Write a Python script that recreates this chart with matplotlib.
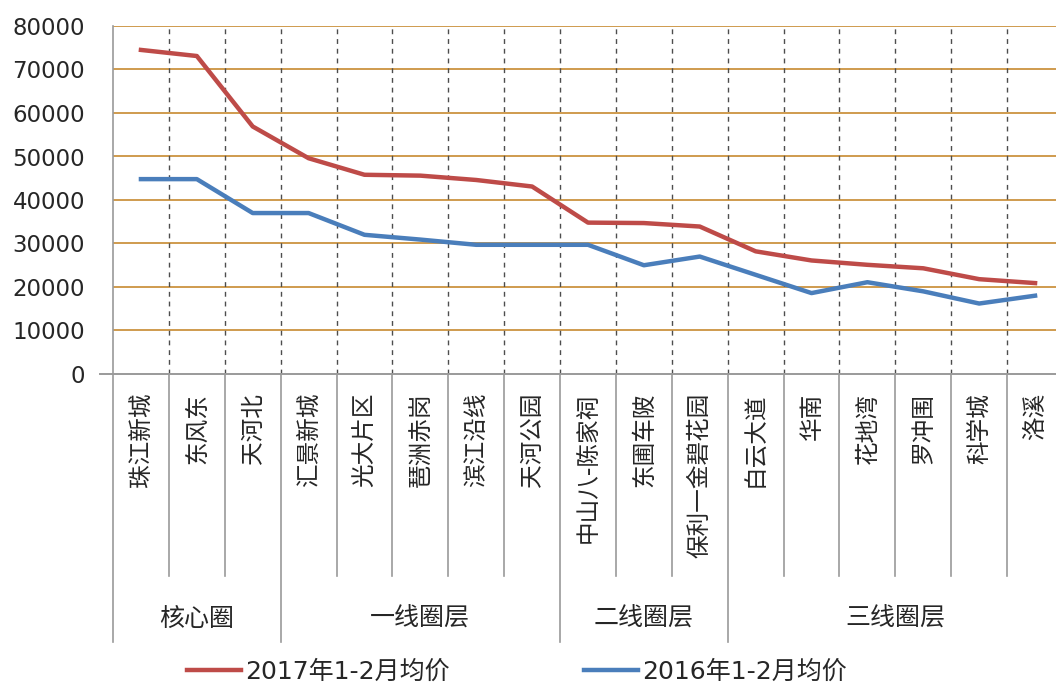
import matplotlib.pyplot as plt
import matplotlib.transforms as mtransforms
from matplotlib.lines import Line2D

# 拉丁字符和数字用 DejaVu，中文回落到 Noto Sans CJK
plt.rcParams['font.family'] = ['DejaVu Sans', 'Noto Sans CJK SC']

# 板块名称与分组
DISTRICTS = ['珠江新城', '东风东', '天河北', '汇景新城', '光大片区', '琶洲赤岗',
             '滨江沿线', '天河公园', '中山八-陈家祠', '东圃车陂', '保利一金碧花园',
             '白云大道', '华南', '花地湾', '罗冲围', '科学城', '洛溪']
GROUPS = ['核心圈', '一线圈层', '二线圈层', '三线圈层']
GROUP_SIZES = [3, 5, 3, 6]

# 均价 (元/㎡)
PRICE_2017 = [74500, 73100, 56900, 49600, 45800, 45600, 44600, 43100,
              34800, 34700, 33900, 28200, 26100, 25100, 24300, 21800, 20900]
PRICE_2016 = [44800, 44800, 37000, 37000, 32000, 30900, 29700, 29700,
              29700, 25000, 27000, 22800, 18600, 21100, 19000, 16200, 18000]

Y_TICKS = list(range(0, 80001, 10000))

RED = '#BE4B48'
BLUE = '#4A7EBB'
GRID = '#CF9B4E'
EDGE = '#9A9A9A'
TEXT = '#262626'

W, H = 1056, 682
fig = plt.figure(figsize=(W / 100, H / 100), dpi=100)
ax = fig.add_axes([113 / W, 1 - 374 / H, 950 / W, 348 / H])

x = list(range(len(DISTRICTS)))
line17, = ax.plot(x, PRICE_2017, color=RED, lw=3.2, solid_joinstyle='round', zorder=4)
line16, = ax.plot(x, PRICE_2016, color=BLUE, lw=3.2, solid_joinstyle='round', zorder=4)

ax.set_xlim(-0.5, len(DISTRICTS) - 0.5)
ax.set_ylim(0, 80000)
ax.set_yticks(Y_TICKS)
ax.set_yticklabels([str(v) for v in Y_TICKS], fontsize=16.5, color=TEXT)
ax.set_xticks([])
ax.tick_params(axis='y', length=0, pad=20)

# 横向网格
for v in Y_TICKS[1:]:
    ax.axhline(v, color=GRID, lw=1.4, zorder=1)

# 板块分隔虚线
for i in range(len(DISTRICTS) - 1):
    ax.axvline(i + 0.5, color='#4d4d4d', lw=1.0, ls=(0, (3.5, 3.5)), zorder=2)

for side in ['top', 'right']:
    ax.spines[side].set_visible(False)
ax.spines['left'].set_color(EDGE)
ax.spines['bottom'].set_color(EDGE)
ax.spines['left'].set_linewidth(1.2)
ax.spines['bottom'].set_linewidth(1.4)

# 横轴向左伸出的一小段
fig.add_artist(Line2D([100 / W, 113 / W], [1 - 374 / H] * 2, color=EDGE, lw=1.4))

# 类别轴下方的分隔线和文字
trans = mtransforms.blended_transform_factory(ax.transData, ax.transAxes)
cat_bottom = -(576 - 374) / 348
group_bottom = -(642 - 374) / 348
group_edges = [-0.5]
for n in GROUP_SIZES:
    group_edges.append(group_edges[-1] + n)

for i in range(len(DISTRICTS) + 1):
    xb = i - 0.5
    y_end = group_bottom if xb in group_edges else cat_bottom
    ax.add_line(Line2D([xb, xb], [0, y_end], transform=trans, color=EDGE,
                       lw=1.2, clip_on=False))

for i, name in enumerate(DISTRICTS):
    ax.text(i, -(393 - 374) / 348, name, transform=trans, rotation=90,
            ha='center', va='top', fontsize=17, color=TEXT)

for k, name in enumerate(GROUPS):
    center = (group_edges[k] + group_edges[k + 1]) / 2
    ax.text(center, -(619 - 374) / 348, name, transform=trans,
            ha='center', va='center', fontsize=18, color=TEXT)

fig.legend([line17, line16], ['2017年1-2月均价', '2016年1-2月均价'],
           loc='center', bbox_to_anchor=(517 / W, 1 - 672 / H), ncol=2,
           frameon=False, fontsize=18, handlelength=2.16, handletextpad=0.15,
           columnspacing=5.4, labelcolor=TEXT, borderpad=0)

fig.savefig('out.png', dpi=100)
